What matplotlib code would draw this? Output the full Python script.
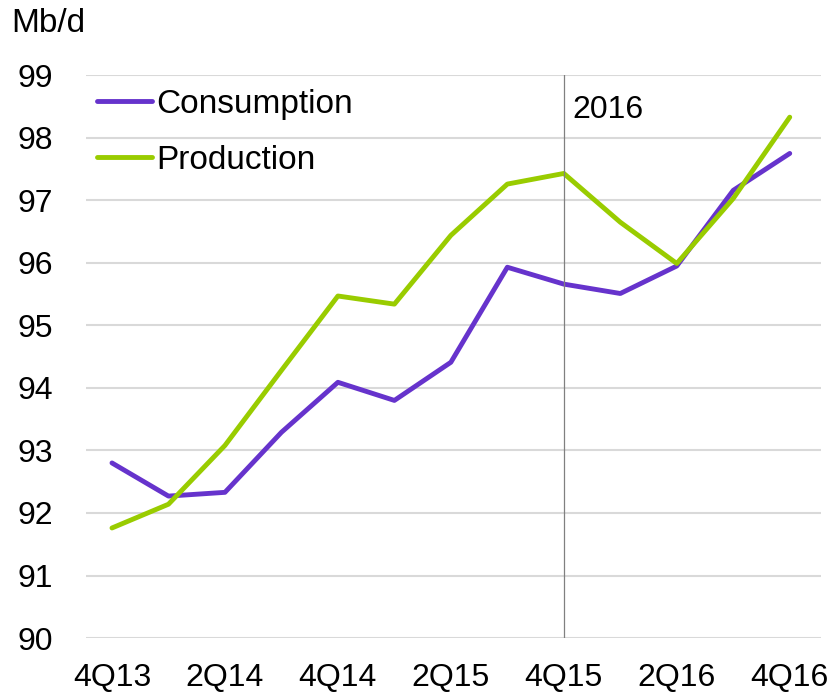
import matplotlib
matplotlib.use('Agg')
import matplotlib.pyplot as plt
from matplotlib import font_manager

# Quarterly world oil balance, Mb/d
quarters = ['4Q13', '1Q14', '2Q14', '3Q14', '4Q14', '1Q15', '2Q15',
            '3Q15', '4Q15', '1Q16', '2Q16', '3Q16', '4Q16']
consumption = [92.80, 92.27, 92.33, 93.29, 94.09, 93.80, 94.41,
               95.93, 95.66, 95.51, 95.95, 97.16, 97.75]
production = [91.76, 92.14, 93.08, 94.28, 95.47, 95.34, 96.44,
              97.26, 97.43, 96.65, 95.99, 97.03, 98.33]
y_ticks = list(range(90, 100))

names = {f.name for f in font_manager.fontManager.ttflist}
narrow = 'Liberation Sans Narrow' if 'Liberation Sans Narrow' in names else 'Liberation Sans'
plt.rcParams['font.family'] = ['Liberation Sans', 'DejaVu Sans']

purple = '#6633cc'
green = '#99cc00'

fig = plt.figure(figsize=(8.35, 6.97), dpi=100)
ax = fig.add_axes([0.103, 0.0846, 0.88, 0.8074])

x = list(range(len(quarters)))
ax.plot(x, consumption, color=purple, lw=3.5, label='Consumption', solid_capstyle='round')
ax.plot(x, production, color=green, lw=3.5, label='Production', solid_capstyle='round')

ax.axvline(8, color='#808080', lw=0.9)
ax.text(8.16, 98.44, '2016', fontsize=23, va='center', ha='left')

ax.set_xlim(-0.46, 12.55)
ax.set_ylim(90, 99)
ax.set_yticks(y_ticks)
ax.yaxis.grid(True, color='#d9d9d9', lw=1.5)
ax.set_axisbelow(True)
ax.set_xticks(x[::2])
ax.set_xticklabels(quarters[::2], fontsize=23, family=narrow)
for lbl in ax.get_yticklabels():
    lbl.set_fontsize(23)
    lbl.set_family(narrow)
ax.tick_params(axis='y', length=0, pad=24)
ax.tick_params(axis='x', length=0, pad=18)
for s in ax.spines.values():
    s.set_visible(False)

fig.text(0.014, 0.967, 'Mb/d', fontsize=24, va='center', ha='left')

ax.legend(frameon=False, loc='upper left', bbox_to_anchor=(-0.012, 1.012),
          fontsize=24, handlelength=1.65, handletextpad=0.12, labelspacing=0.75,
          borderaxespad=0.2)

fig.savefig('out.png', dpi=100)
